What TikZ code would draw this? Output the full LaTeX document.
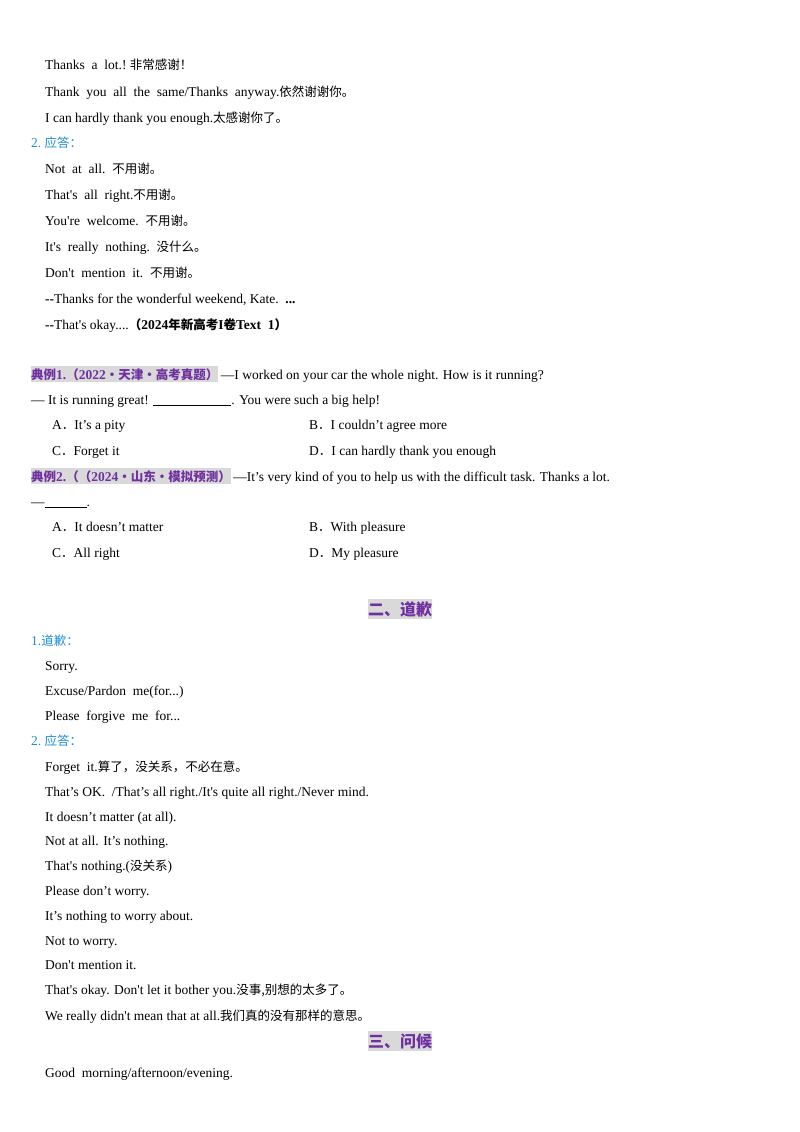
\documentclass[tikz,border=0pt]{standalone}
\usepackage{fontspec}
\setmainfont{Liberation Serif}[Ligatures=TeXOff]
\newfontfamily\cjk{Noto Sans CJK SC}
\newcommand{\zh}[1]{{\cjk\fontsize{12.5}{14}\selectfont #1}}
\definecolor{pur}{HTML}{7030A0}
\definecolor{blu}{HTML}{1F8FD6}
\definecolor{hl}{HTML}{D9D9D9}
\tikzset{t/.style={anchor=base west,inner sep=0pt,font=\fontsize{13.5}{15}\selectfont},
 hd/.style={t,fill=hl,text=pur,inner ysep=2pt,font=\fontsize{13.5}{15}\selectfont\bfseries},
 sec/.style={hd,anchor=base,font=\fontsize{16}{18}\selectfont\bfseries},
 bl/.style={t,text=blu}}
\newcommand{\T}[4]{\node[t] (#1) at (#2,-#3) {#4};}
\begin{document}
\begin{tikzpicture}[x=1pt,y=1pt]
\useasboundingbox (0,0) rectangle (800,-1132);
\begin{scope}[yshift=-4pt]
\T{a1}{45}{66}{Thanks\ \ a\ \ lot.!\ \zh{非常感谢！}}
\T{a2}{45}{92}{Thank\ \ you\ \ all\ \ the\ \ same/Thanks\ \ anyway.\zh{依然谢谢你。}}
\T{a3}{45}{118}{I can hardly thank you enough.\zh{太感谢你了。}}
\node[bl] (a4) at (31,-143) {2.\ \zh{应答：}};
\T{a5}{45}{169}{Not\ \ at\ \ all.\ \ \zh{不用谢。}}
\T{a6}{45}{195}{That's\ \ all\ \ right.\zh{不用谢。}}
\T{a7}{45}{221}{You're\ \ welcome.\ \ \zh{不用谢。}}
\T{a8}{45}{247}{It's\ \ really\ \ nothing.\ \ \zh{没什么。}}
\T{a9}{45}{273}{Don't\ \ mention\ \ it.\ \ \zh{不用谢。}}
\T{a10}{45}{299}{\textbf{--}Thanks for the wonderful weekend, Kate.\ \ \textbf{...}}
\T{a11}{45}{325}{\textbf{--}That's okay....\textbf{\zh{\bfseries （}2024\zh{\bfseries 年新高考}I\zh{\bfseries 卷}Text\ \ 1\zh{\bfseries ）}}}
\node[hd] (h1) at (31,-375) {\zh{\bfseries 典例}1.\zh{\bfseries （}2022\zh{\bfseries ·天津·高考真题）}};
\node[t,anchor=base west] (b1) at (h1.base east) {\,—I worked on your car the whole night. How is it running?};
\T{b2}{31}{400}{— It is running great! \underline{\hspace{78pt}}. You were such a big help!}
\T{b3}{52}{425}{A\zh{．}It’s a pity}
\T{b4}{309}{425}{B\zh{．}I couldn’t agree more}
\T{b5}{52}{451}{C\zh{．}Forget it}
\T{b6}{309}{451}{D\zh{．}I can hardly thank you enough}
\node[hd] (h2) at (31,-477) {\zh{\bfseries 典例}2.\zh{\bfseries （（}2024\zh{\bfseries ·山东·模拟预测）}};
\node[t,anchor=base west] (c1) at (h2.base east) {\,—It’s very kind of you to help us with the difficult task. Thanks a lot.};
\T{c2}{31}{502}{—\underline{\hspace{42pt}}.}
\T{c3}{52}{527}{A\zh{．}It doesn’t matter}
\T{c4}{309}{527}{B\zh{．}With pleasure}
\T{c5}{52}{553}{C\zh{．}All right}
\T{c6}{309}{553}{D\zh{．}My pleasure}
\node[sec] (s2) at (400,-611) {{\cjk\bfseries 二、道歉}};
\node[bl] (d1) at (31,-641) {1.\zh{道歉：}};
\T{d2}{45}{666}{Sorry.}
\T{d3}{45}{691}{Excuse/Pardon\ \ me(for...)}
\T{d4}{45}{716}{Please\ \ forgive\ \ me\ \ for...}
\node[bl] (d5) at (31,-741) {2.\ \zh{应答：}};
\T{e1}{45}{767}{Forget\ \ it.\zh{算了，没关系，不必在意。}}
\T{e2}{45}{792}{That’s OK.\ \ /That’s all right./It's quite all right./Never mind.}
\T{e3}{45}{817}{It doesn’t matter (at all).}
\T{e4}{45}{841}{Not at all. It’s nothing.}
\T{e5}{45}{866}{That's nothing.(\zh{没关系})}
\T{e6}{45}{891}{Please don’t worry.}
\T{e7}{45}{916}{It’s nothing to worry about.}
\T{e8}{45}{941}{Not to worry.}
\T{e9}{45}{965}{Don't mention it.}
\T{e10}{45}{990}{That's okay. Don't let it bother you.\zh{没事,别想的太多了。}}
\T{e11}{45}{1016}{We really didn't mean that at all.\zh{我们真的没有那样的意思。}}
\node[sec] (s3) at (400,-1043) {{\cjk\bfseries 三、问候}};
\T{f1}{45}{1073}{Good\ \ morning/afternoon/evening.}
\end{scope}
\end{tikzpicture}
\end{document}
